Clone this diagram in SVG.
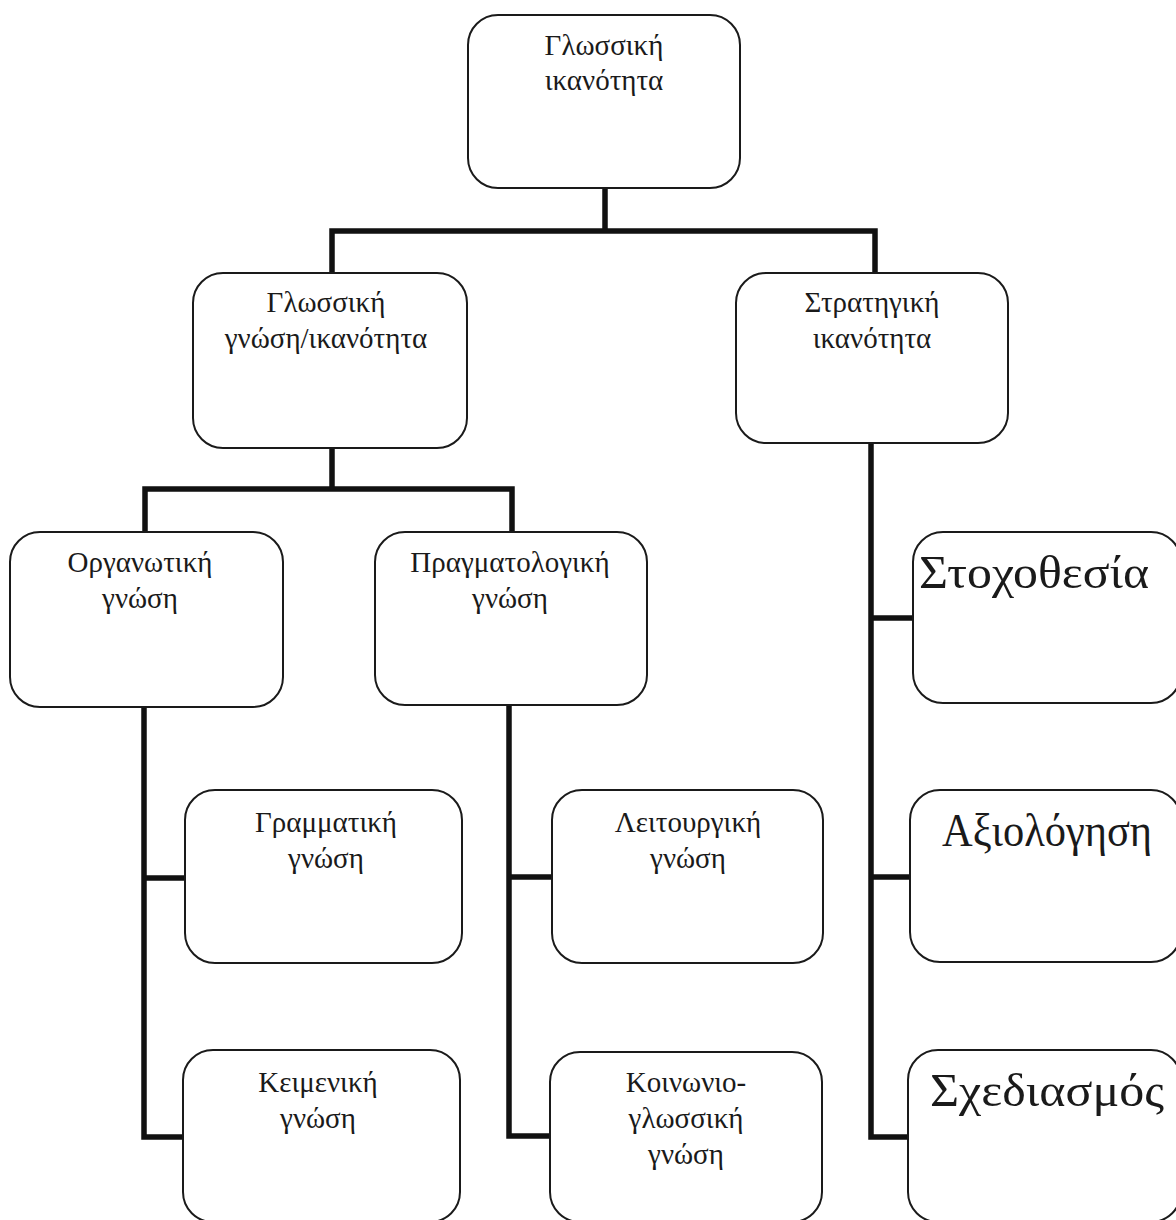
<svg xmlns="http://www.w3.org/2000/svg" width="1176" height="1220" viewBox="0 0 1176 1220">
  <style>
    .box { fill: #ffffff; stroke: #1a1a1a; stroke-width: 2; }
    .lbl { font-family: "Liberation Serif", "Times New Roman", serif; font-size: 29px; fill: #1a1a1a; text-anchor: middle; }
    .big { font-family: "Liberation Serif", "Times New Roman", serif; font-size: 47px; fill: #1a1a1a; text-anchor: middle; }
    .wire { fill: none; stroke: #111111; stroke-width: 5.5; stroke-linecap: square; stroke-linejoin: miter; }
  </style>
  <rect width="1176" height="1220" fill="#ffffff"/>

  <!-- tree connectors -->
  <g id="connectors">
    <path class="wire" d="M605 188 V231 M332 273 V231 H875 V273"/>
    <path class="wire" d="M332 448 V489 M145 532 V489 H512 V532"/>
    <path class="wire" d="M144 707 V1137 H183 M144 878 H185"/>
    <path class="wire" d="M509 705 V1136 H550 M509 877 H552"/>
    <path class="wire" d="M871 443 V1137 H908 M871 618 H913 M871 877 H910"/>
  </g>

  <g id="n-glossiki-ikanotita">
    <rect class="box" x="468" y="15" width="272" height="173" rx="30"/>
    <text class="lbl" x="604" y="55">Γλωσσική</text>
    <text class="lbl" x="604" y="90">ικανότητα</text>
  </g>

  <g id="n-glossiki-gnosi">
    <rect class="box" x="193" y="273" width="274" height="175" rx="30"/>
    <text class="lbl" x="326" y="312">Γλωσσική</text>
    <text class="lbl" x="326" y="348">γνώση/ικανότητα</text>
  </g>

  <g id="n-stratigiki">
    <rect class="box" x="736" y="273" width="272" height="170" rx="30"/>
    <text class="lbl" x="872" y="312">Στρατηγική</text>
    <text class="lbl" x="872" y="348">ικανότητα</text>
  </g>

  <g id="n-organotiki">
    <rect class="box" x="10" y="532" width="273" height="175" rx="30"/>
    <text class="lbl" x="140" y="572">Οργανωτική</text>
    <text class="lbl" x="140" y="608">γνώση</text>
  </g>

  <g id="n-pragmatologiki">
    <rect class="box" x="375" y="532" width="272" height="173" rx="30"/>
    <text class="lbl" x="510" y="572">Πραγματολογική</text>
    <text class="lbl" x="510" y="608">γνώση</text>
  </g>

  <g id="n-grammatiki">
    <rect class="box" x="185" y="790" width="277" height="173" rx="30"/>
    <text class="lbl" x="326" y="832">Γραμματική</text>
    <text class="lbl" x="326" y="868">γνώση</text>
  </g>

  <g id="n-keimeniki">
    <rect class="box" x="183" y="1050" width="277" height="172" rx="30"/>
    <text class="lbl" x="318" y="1092">Κειμενική</text>
    <text class="lbl" x="318" y="1128">γνώση</text>
  </g>

  <g id="n-leitourgiki">
    <rect class="box" x="552" y="790" width="271" height="173" rx="30"/>
    <text class="lbl" x="688" y="832">Λειτουργική</text>
    <text class="lbl" x="688" y="868">γνώση</text>
  </g>

  <g id="n-koinoniogl">
    <rect class="box" x="550" y="1052" width="272" height="170" rx="30"/>
    <text class="lbl" x="686" y="1092">Κοινωνιο-</text>
    <text class="lbl" x="686" y="1128">γλωσσική</text>
    <text class="lbl" x="686" y="1164">γνώση</text>
  </g>

  <g id="n-stochothesia">
    <rect class="box" x="913" y="532" width="268" height="171" rx="30"/>
    <text class="big" x="1034" y="588" textLength="230" lengthAdjust="spacingAndGlyphs">Στοχοθεσία</text>
  </g>

  <g id="n-axiologisi">
    <rect class="box" x="910" y="790" width="271" height="172" rx="30"/>
    <text class="big" x="1047" y="846" textLength="210" lengthAdjust="spacingAndGlyphs">Αξιολόγηση</text>
  </g>

  <g id="n-schediasmos">
    <rect class="box" x="908" y="1050" width="273" height="172" rx="30"/>
    <text class="big" x="1047" y="1106" textLength="234" lengthAdjust="spacingAndGlyphs">Σχεδιασμός</text>
  </g>
</svg>
